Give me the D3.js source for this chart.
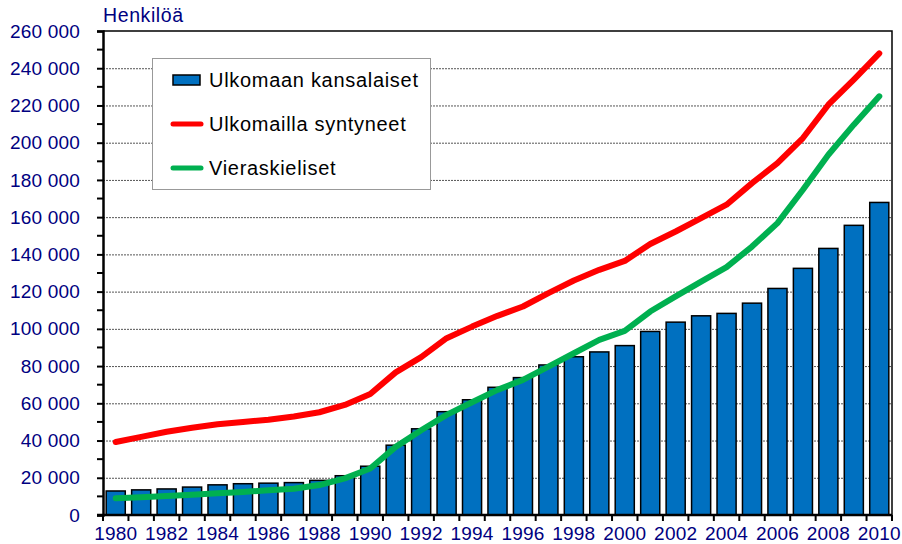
<!DOCTYPE html>
<html lang="fi">
<head>
<meta charset="utf-8">
<title>Ulkomaan kansalaiset, ulkomailla syntyneet ja vieraskieliset 1980-2010</title>
<script src="https://d3js.org/d3.v7.min.js"></script>
<style type="text/css">
  body {
    margin: 0;
    background: #fff;
    font-family: 'Liberation Sans', Arial, sans-serif;
  }
</style>
</head>
<body>
<div id="chart"></div>
<script>

/* Data */
/* ==== */

var years = d3.range(1980, 2011);

// Ulkomaan kansalaiset (bars)
var citizens = [12900, 13500, 14000, 15000, 16200, 16800, 17100, 17400, 18600, 21100,
                26200, 37500, 46300, 55500, 61900, 68600, 73800, 80600, 85000, 87600,
                91000, 98600, 103600, 107000, 108300, 113800, 121700, 132500, 143200, 155600,
                167900];

// Ulkomailla syntyneet (red line)
var bornAbroad = [39200, 42000, 44700, 46900, 48700, 50000, 51200, 52900, 55200, 59100,
                  65000, 76600, 84800, 95000, 101200, 107000, 112000, 119200, 126000, 131700,
                  136500, 145600, 152300, 159500, 166700, 178300, 189000, 202500, 220400, 233900,
                  248000];

// Vieraskieliset (green line)
var foreignLang = [9000, 9500, 10200, 10900, 11700, 12400, 13300, 14100, 16100, 19700,
                   25000, 36600, 45500, 53800, 60600, 67200, 72600, 79700, 86900, 94100,
                   98900, 109300, 117400, 125400, 133200, 144200, 156800, 174700, 193500, 209700,
                   224900];

var yTicks = d3.range(0, 260001, 20000);
var legendItems = ['Ulkomaan kansalaiset', 'Ulkomailla syntyneet', 'Vieraskieliset'];


/* Setup */
/* ===== */

var width = 902,
    height = 544,
    mLeft = 103,
    mRight = 892,
    mTop = 31,
    mBottom = 515;

var navy = '#000080';

var svg = d3.select('#chart').append('svg')
  .attr('width', width)
  .attr('height', height)
  .style('display', 'block');

var x = d3.scaleBand()
  .domain(years)
  .range([mLeft, mRight])
  .paddingInner(0.25)
  .paddingOuter(0.125);

var y = d3.scaleLinear()
  .domain([0, 260000])
  .range([mBottom, mTop]);

var fmt = function(d) { return d3.format(',')(d).replace(/,/g, ' '); };


/* Grid */
/* ==== */

svg.append('g')
  .selectAll('line')
  .data(yTicks.filter(function(d) { return d > 0 && d < 260000; }))
  .join('line')
    .attr('x1', mLeft)
    .attr('x2', mRight)
    .attr('y1', function(d) { return y(d) + 0.5; })
    .attr('y2', function(d) { return y(d) + 0.5; })
    .attr('stroke', '#555')
    .attr('stroke-width', 1)
    .attr('stroke-dasharray', '2,1');


/* Bars */
/* ==== */

svg.append('g')
  .selectAll('rect')
  .data(years)
  .join('rect')
    .attr('x', function(d) { return x(d); })
    .attr('y', function(d, i) { return y(citizens[i]); })
    .attr('width', x.bandwidth())
    .attr('height', function(d, i) { return mBottom - y(citizens[i]); })
    .attr('fill', '#0070C0')
    .attr('stroke', '#000')
    .attr('stroke-width', 1.5);


/* Lines */
/* ===== */

var line = d3.line()
  .x(function(d) { return x(d[0]) + x.bandwidth() / 2; })
  .y(function(d) { return y(d[1]); });

[[foreignLang, '#00B050'], [bornAbroad, '#FF0000']].forEach(function(s) {
  svg.append('path')
    .datum(years.map(function(yr, i) { return [yr, s[0][i]]; }))
    .attr('d', line)
    .attr('fill', 'none')
    .attr('stroke', s[1])
    .attr('stroke-width', 6)
    .attr('stroke-linejoin', 'round')
    .attr('stroke-linecap', 'round');
});


/* Frame and axes */
/* ============== */

// top and right border
svg.append('path')
  .attr('d', 'M' + mLeft + ',' + mTop + 'H' + mRight + 'V' + mBottom)
  .attr('fill', 'none')
  .attr('stroke', '#000')
  .attr('stroke-width', 1.5);

// y axis
var yAxis = svg.append('g')
  .attr('transform', 'translate(' + mLeft + ',0)')
  .call(d3.axisLeft(y).tickValues(yTicks).tickFormat(fmt).tickSize(6).tickPadding(17));

yAxis.select('.domain').attr('stroke-width', 2.5);
yAxis.selectAll('.tick line').attr('stroke-width', 2);
yAxis.selectAll('.tick text')
  .attr('fill', navy)
  .style('font-family', "'Liberation Sans', Arial, sans-serif")
  .style('font-size', '19px')
  .style('letter-spacing', '0.2px');

// minor ticks
svg.append('g')
  .selectAll('line')
  .data(d3.range(10000, 260000, 20000))
  .join('line')
    .attr('x1', mLeft - 6)
    .attr('x2', mLeft)
    .attr('y1', function(d) { return y(d); })
    .attr('y2', function(d) { return y(d); })
    .attr('stroke', '#000')
    .attr('stroke-width', 2);

// x axis line
svg.append('line')
  .attr('x1', mLeft - 6)
  .attr('x2', mRight)
  .attr('y1', mBottom)
  .attr('y2', mBottom)
  .attr('stroke', '#000')
  .attr('stroke-width', 2.5);

// x ticks at category boundaries
var step = x.step();
svg.append('g')
  .selectAll('line')
  .data(d3.range(years.length + 1))
  .join('line')
    .attr('x1', function(i) { return mLeft + i * step; })
    .attr('x2', function(i) { return mLeft + i * step; })
    .attr('y1', mBottom)
    .attr('y2', mBottom + 6)
    .attr('stroke', '#000')
    .attr('stroke-width', 2);

// x labels every second year
svg.append('g')
  .selectAll('text')
  .data(years.filter(function(d) { return d % 2 === 0; }))
  .join('text')
    .attr('x', function(d) { return x(d) + x.bandwidth() / 2; })
    .attr('y', 539.5)
    .attr('text-anchor', 'middle')
    .attr('fill', navy)
    .style('font-size', '19px')
    .style('letter-spacing', '0.2px')
    .text(function(d) { return d; });

// unit label
svg.append('text')
  .attr('x', 103)
  .attr('y', 22)
  .attr('fill', navy)
  .style('font-size', '19.5px')
  .style('letter-spacing', '0.6px')
  .text('Henkilöä');


/* Legend */
/* ====== */

var legend = svg.append('g');

legend.append('rect')
  .attr('x', 152.5)
  .attr('y', 58.5)
  .attr('width', 278)
  .attr('height', 131)
  .attr('fill', '#fff')
  .attr('stroke', '#999')
  .attr('stroke-width', 1);

var rows = [80, 124, 168];

legend.append('rect')
  .attr('x', 173)
  .attr('y', rows[0] - 5)
  .attr('width', 27)
  .attr('height', 10)
  .attr('fill', '#0070C0')
  .attr('stroke', '#000')
  .attr('stroke-width', 1.5);

[['#FF0000', rows[1]], ['#00B050', rows[2]]].forEach(function(d) {
  legend.append('line')
    .attr('x1', 173)
    .attr('x2', 201)
    .attr('y1', d[1])
    .attr('y2', d[1])
    .attr('stroke', d[0])
    .attr('stroke-width', 5)
    .attr('stroke-linecap', 'round');
});

legend.selectAll('text')
  .data(legendItems)
  .join('text')
    .attr('x', 209)
    .attr('y', function(d, i) { return rows[i] + 7; })
    .attr('fill', '#000')
    .style('font-size', '20px')
    .style('letter-spacing', '0.7px')
    .text(function(d) { return d; });

</script>
</body>
</html>
